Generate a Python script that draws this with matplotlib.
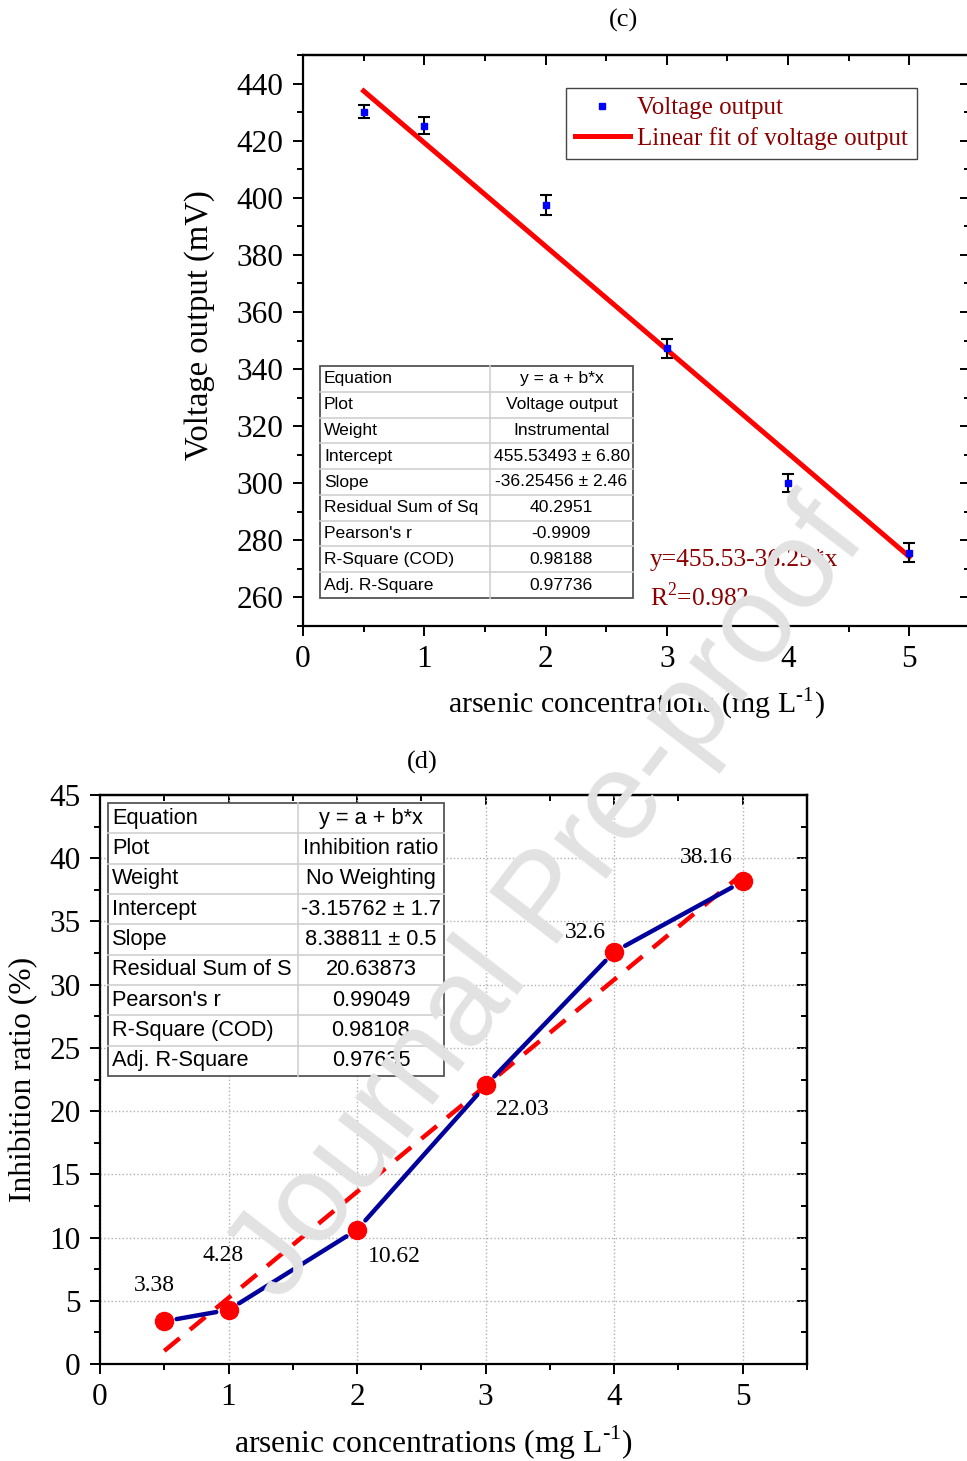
import matplotlib
matplotlib.use("Agg")
import matplotlib.pyplot as plt
from matplotlib.lines import Line2D
from matplotlib.patches import Rectangle
from matplotlib.ticker import MultipleLocator

# --- data: voltage output vs arsenic (panel c) ---
conc = [0.5, 1, 2, 3, 4, 5]
voltage = [430.2, 425.3, 397.6, 347.2, 300.2, 275.7]
voltage_err = [2.3, 3.0, 3.5, 3.3, 3.2, 3.3]
v_intercept = 455.53493
v_slope = -36.25456

# --- data: inhibition ratio vs arsenic (panel d) ---
inhib = [3.38, 4.28, 10.62, 22.03, 32.6, 38.16]
i_intercept = -3.15762
i_slope = 8.38811

table_c = [("Equation", "y = a + b*x"), ("Plot", "Voltage output"),
           ("Weight", "Instrumental"), ("Intercept", "455.53493 ± 6.80"),
           ("Slope", "-36.25456 ± 2.46"), ("Residual Sum of Sq", "40.2951"),
           ("Pearson's r", "-0.9909"), ("R-Square (COD)", "0.98188"),
           ("Adj. R-Square", "0.97736")]
table_d = [("Equation", "y = a + b*x"), ("Plot", "Inhibition ratio"),
           ("Weight", "No Weighting"), ("Intercept", "-3.15762 ± 1.7"),
           ("Slope", "8.38811 ± 0.5"), ("Residual Sum of S", "20.63873"),
           ("Pearson's r", "0.99049"), ("R-Square (COD)", "0.98108"),
           ("Adj. R-Square", "0.97635")]
# offsets (pixels) of value labels from their points
lbl_off = [(-10, 36), (-5, 54), (37, -27), (37, -24), (-29, 19), (-36, 24)]

plt.rcParams['font.family'] = 'Liberation Serif'
plt.rcParams['mathtext.fontset'] = 'custom'
plt.rcParams['mathtext.rm'] = 'Liberation Serif'

XLABEL = r'arsenic concentrations (mg L$^{\text{-1}}$)'

W, H = 967, 1461
fig = plt.figure(figsize=(W / 100, H / 100), dpi=100)


def px_axes(l, t, r, b):
    return fig.add_axes([l / W, 1 - b / H, (r - l) / W, (b - t) / H])


def style_axes(ax):
    for s in ax.spines.values():
        s.set_linewidth(1.6)
    ax.tick_params(which='both', direction='out', width=1.4, labelsize=22.5,
                   top=False, right=False)
    ax.tick_params(which='major', length=7, pad=7)
    ax.tick_params(which='minor', length=4)
    # mirrored ticks on top/right point inward
    sec = ax.secondary_xaxis('top')
    sec.tick_params(which='both', direction='in', width=1.4, labeltop=False)
    sec.tick_params(which='major', length=7)
    sec.tick_params(which='minor', length=4)
    sec.xaxis.set_major_locator(ax.xaxis.get_major_locator())
    sec.xaxis.set_minor_locator(ax.xaxis.get_minor_locator())
    sec.set_xticklabels([])
    sec.spines['top'].set_linewidth(1.6)
    secy = ax.secondary_yaxis('right')
    secy.tick_params(which='both', direction='in', width=1.4, labelright=False)
    secy.tick_params(which='major', length=7)
    secy.tick_params(which='minor', length=4)
    secy.yaxis.set_major_locator(ax.yaxis.get_major_locator())
    secy.yaxis.set_minor_locator(ax.yaxis.get_minor_locator())
    secy.set_yticklabels([])
    secy.spines['right'].set_linewidth(1.6)


def draw_table(rows, l, t, r, b, split, fs):
    n = len(rows)
    rh = (b - t) / n
    for i in range(1, n):
        y = 1 - (t + i * rh) / H
        fig.add_artist(Line2D([l / W, r / W], [y, y], color='#cfcfcf', lw=1.2, zorder=5))
    fig.add_artist(Line2D([split / W, split / W], [1 - t / H, 1 - b / H],
                          color='#cfcfcf', lw=1.2, zorder=5))
    fig.add_artist(Rectangle((l / W, 1 - b / H), (r - l) / W, (b - t) / H,
                             fill=True, facecolor='white', edgecolor='#555555',
                             lw=1.3, zorder=4))
    for i, (k, v) in enumerate(rows):
        yc = 1 - (t + (i + 0.5) * rh) / H
        fig.text((l + 4) / W, yc, k, fontsize=fs, family='Liberation Sans',
                 ha='left', va='center', zorder=6)
        fig.text((split + r) / 2 / W, yc, v, fontsize=fs, family='Liberation Sans',
                 ha='center', va='center', zorder=6)


# ---------------- panel (c) ----------------
ax1 = px_axes(303, 55, 970, 626)
ax1.set_xlim(0, 5.5)
ax1.set_ylim(250, 450)
ax1.xaxis.set_major_locator(MultipleLocator(1))
ax1.xaxis.set_minor_locator(MultipleLocator(0.5))
ax1.yaxis.set_major_locator(MultipleLocator(20))
ax1.yaxis.set_minor_locator(MultipleLocator(10))
ax1.errorbar(conc, voltage, yerr=voltage_err, fmt='s', color='#0000ff', ms=5,
             ecolor='black', elinewidth=1.5, capsize=4, capthick=1.5, zorder=3)
fx = [conc[0], conc[-1]]
ax1.plot(fx, [v_intercept + v_slope * x for x in fx], color='#ff0000', lw=3.6, zorder=2)
style_axes(ax1)
ax1.set_xlabel(XLABEL, fontsize=21.5)
ax1.xaxis.set_label_coords(0.5, -0.105)
ax1.set_ylabel('Voltage output (mV)', fontsize=23.5)
ax1.yaxis.set_label_coords(-0.132, 0.527)

hnd = [Line2D([], [], marker='s', ls='none', color='#0000ff', ms=5),
       Line2D([], [], color='#ff0000', lw=3.6)]
leg = ax1.legend(hnd, ['Voltage output', 'Linear fit of voltage output'],
                 loc='upper right', bbox_to_anchor=(0.9205, 0.942), fontsize=18,
                 fancybox=False, framealpha=1, edgecolor='#444444', handlelength=2.2,
                 borderpad=0.35, labelspacing=0.3, handletextpad=0.3, borderaxespad=0)
leg.get_frame().set_linewidth(1.0)
for t in leg.get_texts():
    t.set_color('#8b0000')

ax1.text(0.52, 0.115, f'y={v_intercept:.2f}-{abs(v_slope):.2f}*x', transform=ax1.transAxes,
         fontsize=18.4, color='#8b0000', ha='left', va='center')
ax1.text(0.52, 0.052, 'R$^2$=0.982', transform=ax1.transAxes,
         fontsize=18.4, color='#8b0000', ha='left', va='center')

draw_table(table_c, 320, 366, 633, 598, 490, 12.6)
fig.text(623 / W, 1 - 20 / H, '(c)', fontsize=19, ha='center', va='center')

# ---------------- panel (d) ----------------
ax2 = px_axes(100, 795, 807, 1364)
ax2.set_xlim(0, 5.5)
ax2.set_ylim(0, 45)
ax2.xaxis.set_major_locator(MultipleLocator(1))
ax2.xaxis.set_minor_locator(MultipleLocator(0.5))
ax2.yaxis.set_major_locator(MultipleLocator(5))
ax2.yaxis.set_minor_locator(MultipleLocator(2.5))
ax2.grid(True, which='major', ls=':', color='#b0b0b0', lw=1.0)
ax2.set_axisbelow(True)

ax2.plot(fx, [i_intercept + i_slope * x for x in fx], color='#ff0000', lw=3.2,
         dashes=(4.5, 3), zorder=2)
for k in range(len(conc) - 1):
    ax2.annotate('', xy=(conc[k + 1], inhib[k + 1]), xytext=(conc[k], inhib[k]),
                 arrowprops=dict(arrowstyle='-', color='#00009c', lw=3.2,
                                 shrinkA=9, shrinkB=9), zorder=3)
ax2.plot(conc, inhib, 'o', color='#ff0000', ms=13, zorder=4)
for x, y, (dx, dy) in zip(conc, inhib, lbl_off):
    ax2.annotate(f'{y:g}', (x, y), xytext=(dx, dy), textcoords='offset pixels',
                 fontsize=17, ha='center', va='center', zorder=5)
style_axes(ax2)
ax2.set_xlabel(XLABEL, fontsize=22.8)
ax2.xaxis.set_label_coords(0.471, -0.105)
ax2.set_ylabel('Inhibition ratio (%)', fontsize=22.7)
ax2.yaxis.set_label_coords(-0.088, 0.5)

draw_table(table_d, 108, 803, 444, 1076, 298, 15.7)
fig.text(422 / W, 1 - 762 / H, '(d)', fontsize=19, ha='center', va='center')

# watermark
fig.text(549 / W, 1 - 902 / H, 'Journal Pre-proof', fontsize=90, family='Liberation Sans',
         rotation=52.5, color='#e2e2e2', ha='center', va='center', zorder=20)

fig.savefig('out.png', dpi=100)
